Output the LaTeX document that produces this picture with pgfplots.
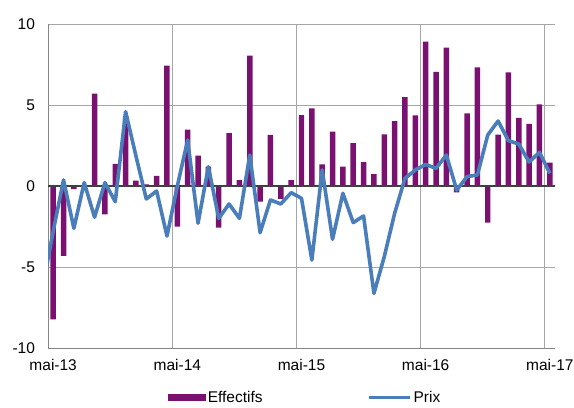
\documentclass[border=0pt]{standalone}
\usepackage{pgfplots}
\pgfplotsset{compat=1.18}
\usepackage{pgfplotstable}
\usepackage{fontspec}
\setmainfont{Liberation Sans}
\definecolor{barcol}{HTML}{7A1171}
\definecolor{linecol}{HTML}{4A7EBB}
\definecolor{gridcol}{HTML}{A6A6A6}
\definecolor{axcol}{HTML}{868686}
\newcommand\fsz{\fontsize{15.5bp}{18bp}\selectfont}
\pgfplotstableread{
x v
0.5 -8.23
1.5 -4.32
2.5 -0.2
3.5 0.0
4.5 5.70
5.5 -1.75
6.5 1.36
7.5 4.3
8.5 0.33
9.5 0.1
10.5 0.62
11.5 7.43
12.5 -2.51
13.5 3.48
14.5 1.87
15.5 1.2
16.5 -2.57
17.5 3.27
18.5 0.37
19.5 8.05
20.5 -0.97
21.5 3.15
22.5 -0.8
23.5 0.37
24.5 4.38
25.5 4.79
26.5 1.34
27.5 3.35
28.5 1.19
29.5 2.65
30.5 1.48
31.5 0.74
32.5 3.19
33.5 4.01
34.5 5.49
35.5 4.36
36.5 8.91
37.5 7.04
38.5 8.54
39.5 -0.39
40.5 4.49
41.5 7.33
42.5 -2.26
43.5 3.17
44.5 7.02
45.5 4.2
46.5 3.83
47.5 5.04
48.5 1.44
}\effectifs
\pgfplotstableread{
x v
-0.5 -6.2
0.5 -2.8
1.5 0.37
2.5 -2.61
3.5 0.21
4.5 -1.93
5.5 0.21
6.5 -0.97
7.5 4.59
8.5 1.85
9.5 -0.8
10.5 -0.31
11.5 -3.09
12.5 0.0
13.5 2.84
14.5 -2.3
15.5 1.19
16.5 -2.0
17.5 -1.11
18.5 -2.0
19.5 1.91
20.5 -2.88
21.5 -0.86
22.5 -1.11
23.5 -0.41
24.5 -0.76
25.5 -4.57
26.5 0.99
27.5 -3.29
28.5 -0.45
29.5 -2.26
30.5 -1.85
31.5 -6.63
32.5 -4.36
33.5 -1.69
34.5 0.47
35.5 0.99
36.5 1.33
37.5 1.09
38.5 1.91
39.5 -0.25
40.5 0.58
41.5 0.68
42.5 3.15
43.5 4.01
44.5 2.8
45.5 2.59
46.5 1.48
47.5 2.08
48.5 0.78
}\prix
\begin{document}
\begin{tikzpicture}
\begin{axis}[
  name=ax,
  scale only axis,
  width=507bp, height=324bp,
  xmin=0, xmax=49, ymin=-10, ymax=10,
  axis lines*=left,
  axis line style={-, draw=axcol, line width=1bp},
  xtick={0,12,24,36,48},
  xticklabels={mai-13,mai-14,mai-15,mai-16,mai-17},
  xticklabel style={xshift=5.17bp, yshift=-8bp},
  ytick={-10,-5,0,5,10},
  yticklabels={-10,-5,0,5,10},
  yticklabel style={xshift=-9.5bp},
  tick label style={font=\fsz},
  major tick length=0pt,
  xmajorgrids, ymajorgrids,
  grid style={draw=gridcol, line width=0.9bp},
  legend style={at={(0.507,-0.154)}, anchor=center, draw=none, fill=none,
    font=\fsz, legend columns=2,
    /tikz/every even column/.append style={column sep=103bp}},
]
\addplot[ybar, bar width=0.53, fill=barcol, draw=none,
  legend image code/.code={\fill[barcol] (0bp,-3.5bp) rectangle (38bp,3.5bp);}]
  table[x=x, y=v] {\effectifs};
\addlegendentry{Effectifs}
\draw[draw=black!75, line width=1.2bp] (axis cs:0,0) -- (axis cs:49,0);
\addplot[draw=linecol, line width=3.6bp, mark=none, line join=round,
  legend image code/.code={\draw[linecol, line width=3bp] (0bp,0bp) -- (41bp,0bp);}]
  table[x=x, y=v] {\prix};
\addlegendentry{Prix}
\end{axis}
\pgfresetboundingbox
\path ([xshift=-48bp,yshift=-59bp]ax.south west) rectangle ([xshift=19bp,yshift=24bp]ax.north east);
\end{tikzpicture}
\end{document}
